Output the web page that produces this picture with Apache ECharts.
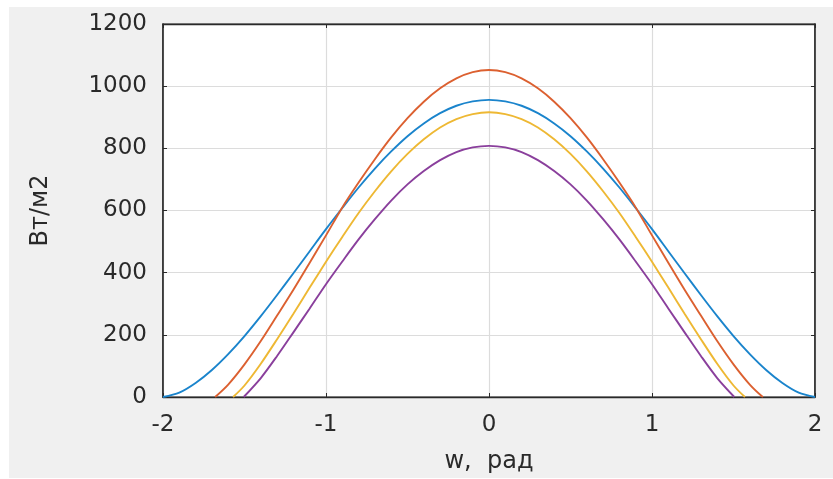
<!DOCTYPE html>
<html>
<head>
<meta charset="utf-8">
<script src="https://cdn.jsdelivr.net/npm/echarts@6/dist/echarts.min.js"></script>
<style>
html,body{margin:0;padding:0;background:#ffffff;}
#chart{width:833px;height:479px;}
</style>
</head>
<body>
<div id="chart"></div>
<script>
// ---- data ----
const xTicks = [-2, -1, 0, 1, 2];
const yTicks = [0, 200, 400, 600, 800, 1000, 1200];
const xTitle = "w,  рад";
const yTitle = "Вт/м2";

const wBlue = [-2,-1.9,-1.8,-1.7,-1.6,-1.5,-1.4,-1.3,-1.2,-1.1,-1,-0.9,-0.8,-0.7,-0.6,-0.5,-0.4,-0.3,-0.2,-0.1,0,0.1,0.2,0.3,0.4,0.5,0.6,0.7,0.8,0.9,1,1.1,1.2,1.3,1.4,1.5,1.6,1.7,1.8,1.9,2];
const vBlue = [0,14,45,87,138,196,260,328,398,469,540,608,674,735,790,839,880,913,937,951,956,951,937,913,880,839,790,735,674,608,540,469,398,328,260,196,138,87,45,14,0];

const wOrange = [-1.68,-1.6,-1.5,-1.4,-1.3,-1.2,-1.1,-1,-0.9,-0.8,-0.7,-0.6,-0.5,-0.4,-0.3,-0.2,-0.1,0,0.1,0.2,0.3,0.4,0.5,0.6,0.7,0.8,0.9,1,1.1,1.2,1.3,1.4,1.5,1.6,1.68];
const vOrange = [0,40,105,180,262,345,432,520,610,690,765,835,897,950,993,1025,1045,1052,1045,1025,993,950,897,835,765,690,610,520,432,345,262,180,105,40,0];

const wYellow = [-1.57,-1.5,-1.4,-1.3,-1.2,-1.1,-1,-0.9,-0.8,-0.7,-0.6,-0.5,-0.4,-0.3,-0.2,-0.1,0,0.1,0.2,0.3,0.4,0.5,0.6,0.7,0.8,0.9,1,1.1,1.2,1.3,1.4,1.5,1.57];
const vYellow = [0,37,107,186,268,352,435,515,592,662,726,782,829,867,894,910,916,910,894,867,829,782,726,662,592,515,435,352,268,186,107,37,0];

const wPurple = [-1.505,-1.4,-1.3,-1.2,-1.1,-1,-0.9,-0.8,-0.7,-0.6,-0.5,-0.4,-0.3,-0.2,-0.1,0,0.1,0.2,0.3,0.4,0.5,0.6,0.7,0.8,0.9,1,1.1,1.2,1.3,1.4,1.505];
const vPurple = [0,61,132,208,285,363,436,507,572,632,684,727,762,788,803,808,803,788,762,727,684,632,572,507,436,363,285,208,132,61,0];

const colors = ['#1a84cc', '#dc6030', '#eeb833', '#8a3f9c'];

function pairs(ws, vs) { return ws.map((w, i) => [w, vs[i]]); }

const textColor = '#2a2a2a';
const font = 'DejaVu Sans';
const xMin = xTicks[0], xMax = xTicks[xTicks.length - 1], xInt = xTicks[1] - xTicks[0];
const yMin = yTicks[0], yMax = yTicks[yTicks.length - 1], yInt = yTicks[1] - yTicks[0];

const chart = echarts.init(document.getElementById('chart'), null, {renderer: 'canvas'});

function lineSeries(name, ws, vs, color) {
  return {
    name: name, type: 'line', xAxisIndex: 0, yAxisIndex: 0,
    data: pairs(ws, vs), showSymbol: false, smooth: 0.3,
    lineStyle: {color: color, width: 1.9}, itemStyle: {color: color},
    clip: true, animation: false
  };
}

chart.setOption({
  animation: false,
  backgroundColor: 'transparent',
  graphic: [{
    type: 'rect', z: -100, silent: true,
    shape: {x: 9, y: 7, width: 824, height: 471},
    style: {fill: '#f0f0f0'}
  }],
  grid: {
    left: 163, right: 18, top: 24, bottom: 81,
    show: true, backgroundColor: '#ffffff', borderColor: textColor, borderWidth: 1.2
  },
  xAxis: [{
    type: 'value', position: 'bottom', min: xMin, max: xMax, interval: xInt,
    name: xTitle, nameLocation: 'middle', nameGap: 53,
    nameTextStyle: {fontFamily: font, fontSize: 24, color: textColor},
    axisLine: {show: true, onZero: false, lineStyle: {color: textColor, width: 1.4}},
    axisTick: {show: true, inside: true, length: 4, lineStyle: {color: textColor}},
    axisLabel: {fontFamily: font, fontSize: 23, color: textColor, margin: 17,
      formatter: v => String(v)},
    splitLine: {show: true, lineStyle: {color: '#dcdcdc', width: 1.2}}
  }, {
    type: 'value', position: 'top', min: xMin, max: xMax, interval: xInt,
    axisLine: {show: true, onZero: false, lineStyle: {color: textColor, width: 1.4}},
    axisTick: {show: true, inside: true, length: 4, lineStyle: {color: textColor}},
    axisLabel: {show: false}, splitLine: {show: false}
  }],
  yAxis: [{
    type: 'value', position: 'left', min: yMin, max: yMax, interval: yInt,
    name: yTitle, nameLocation: 'middle', nameGap: 110, nameRotate: 90,
    nameTextStyle: {fontFamily: font, fontSize: 24, color: textColor},
    axisLine: {show: true, onZero: false, lineStyle: {color: textColor, width: 1.6}},
    axisTick: {show: true, inside: true, length: 4, lineStyle: {color: textColor}},
    axisLabel: {fontFamily: font, fontSize: 23, color: textColor, margin: 16,
      formatter: v => String(v)},
    splitLine: {show: true, lineStyle: {color: '#dcdcdc', width: 1.2}}
  }, {
    type: 'value', position: 'right', min: yMin, max: yMax, interval: yInt,
    axisLine: {show: true, onZero: false, lineStyle: {color: textColor, width: 1.6}},
    axisTick: {show: true, inside: true, length: 4, lineStyle: {color: textColor}},
    axisLabel: {show: false}, splitLine: {show: false}
  }],
  series: [
    lineSeries('s1', wBlue, vBlue, colors[0]),
    lineSeries('s2', wOrange, vOrange, colors[1]),
    lineSeries('s3', wYellow, vYellow, colors[2]),
    lineSeries('s4', wPurple, vPurple, colors[3])
  ]
});
</script>
</body>
</html>
